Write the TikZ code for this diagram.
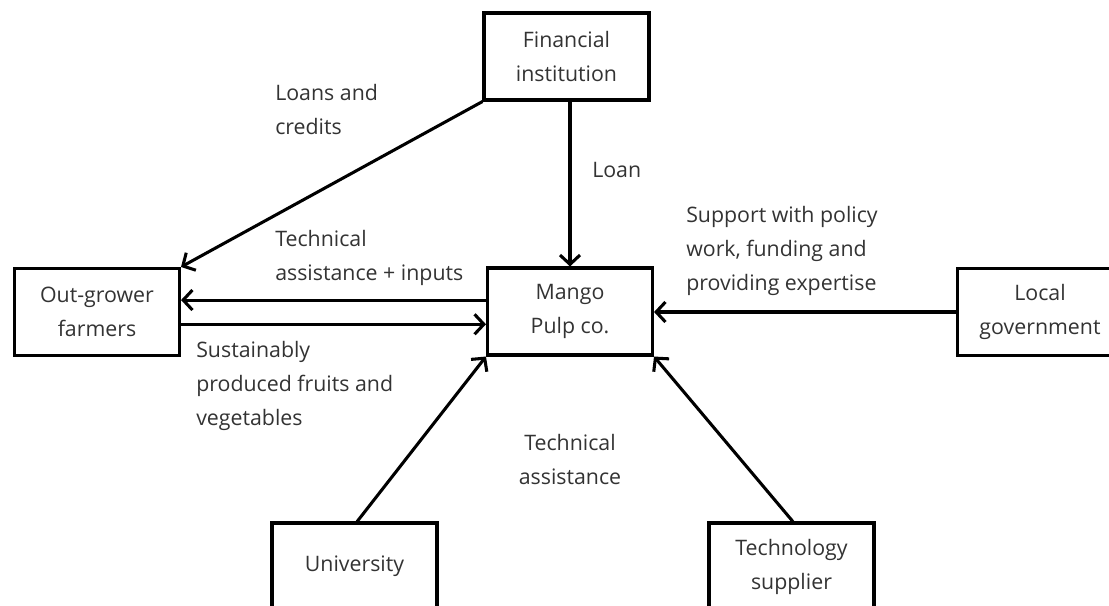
\documentclass[tikz,border=0pt]{standalone}
\usepackage{fontspec}
\setmainfont{Open Sans}
\usetikzlibrary{arrows.meta}
\definecolor{txt}{HTML}{333333}
\tikzset{
  box/.style={draw=black, line width=2.3pt, rectangle, inner sep=0pt,
    minimum width=123.75pt, minimum height=65.25pt, align=center,
    text=txt, font=\fontsize{16}{25.5}\selectfont},
  lbl/.style={inner sep=0pt, align=left, anchor=west, text=txt,
    font=\fontsize{16}{25.5}\selectfont},
  arr/.style={line width=2.3pt, -{Straight Barb[length=7pt,width=15pt,line width=2.3pt]}},
  ln/.style={line width=2.3pt}
}
\begin{document}
\begin{tikzpicture}[x=0.75pt,y=-0.75pt]
\useasboundingbox (0,0) rectangle (1109,606);
\clip (0,0) rectangle (1109,606);
\node[box] (fin) at (566.5,56.5) {Financial\\institution};
\node[box] (mango) at (570,311.5) {Mango\\Pulp co.};
\node[box] (og) at (97,312) {Out-grower\\farmers};
\node[box] (lg) at (1040,312) {Local\\government};
\node[box] (uni) at (354.5,566.5) {University};
\node[box] (tech) at (791.5,566.5) {Technology\\supplier};

\draw[arr] (mango.north |- fin.south) -- (mango.north);
\draw[arr] (fin.south west) -- (og.north east);
\draw[arr] ([yshift=8.6pt]mango.west) -- ([yshift=8.6pt]mango.west -| og.east);
\draw[arr] ([yshift=-9.2pt]og.east) -- ([yshift=-9.2pt]og.east -| mango.west);
\draw[arr] (lg.west) -- (lg.west -| mango.east);
\draw[arr] ([xshift=2pt]uni.north) -- (mango.south west);
\draw[arr] ([xshift=1pt]tech.north) -- (mango.south east);

\node[lbl] (l1) at (275,110) {Loans and\\credits};
\node[lbl] (l2) at (592,170) {Loan};
\node[lbl] (l3) at (686,251) {Support with policy\\work, funding and\\providing expertise};
\node[lbl] (l4) at (275,258) {Technical\\assistance + inputs};
\node[lbl] (l5) at (196,386) {Sustainably\\produced fruits and\\vegetables};
\node[lbl, anchor=center, align=center] (l6) at (570,459) {Technical\\assistance};
\end{tikzpicture}
\end{document}
